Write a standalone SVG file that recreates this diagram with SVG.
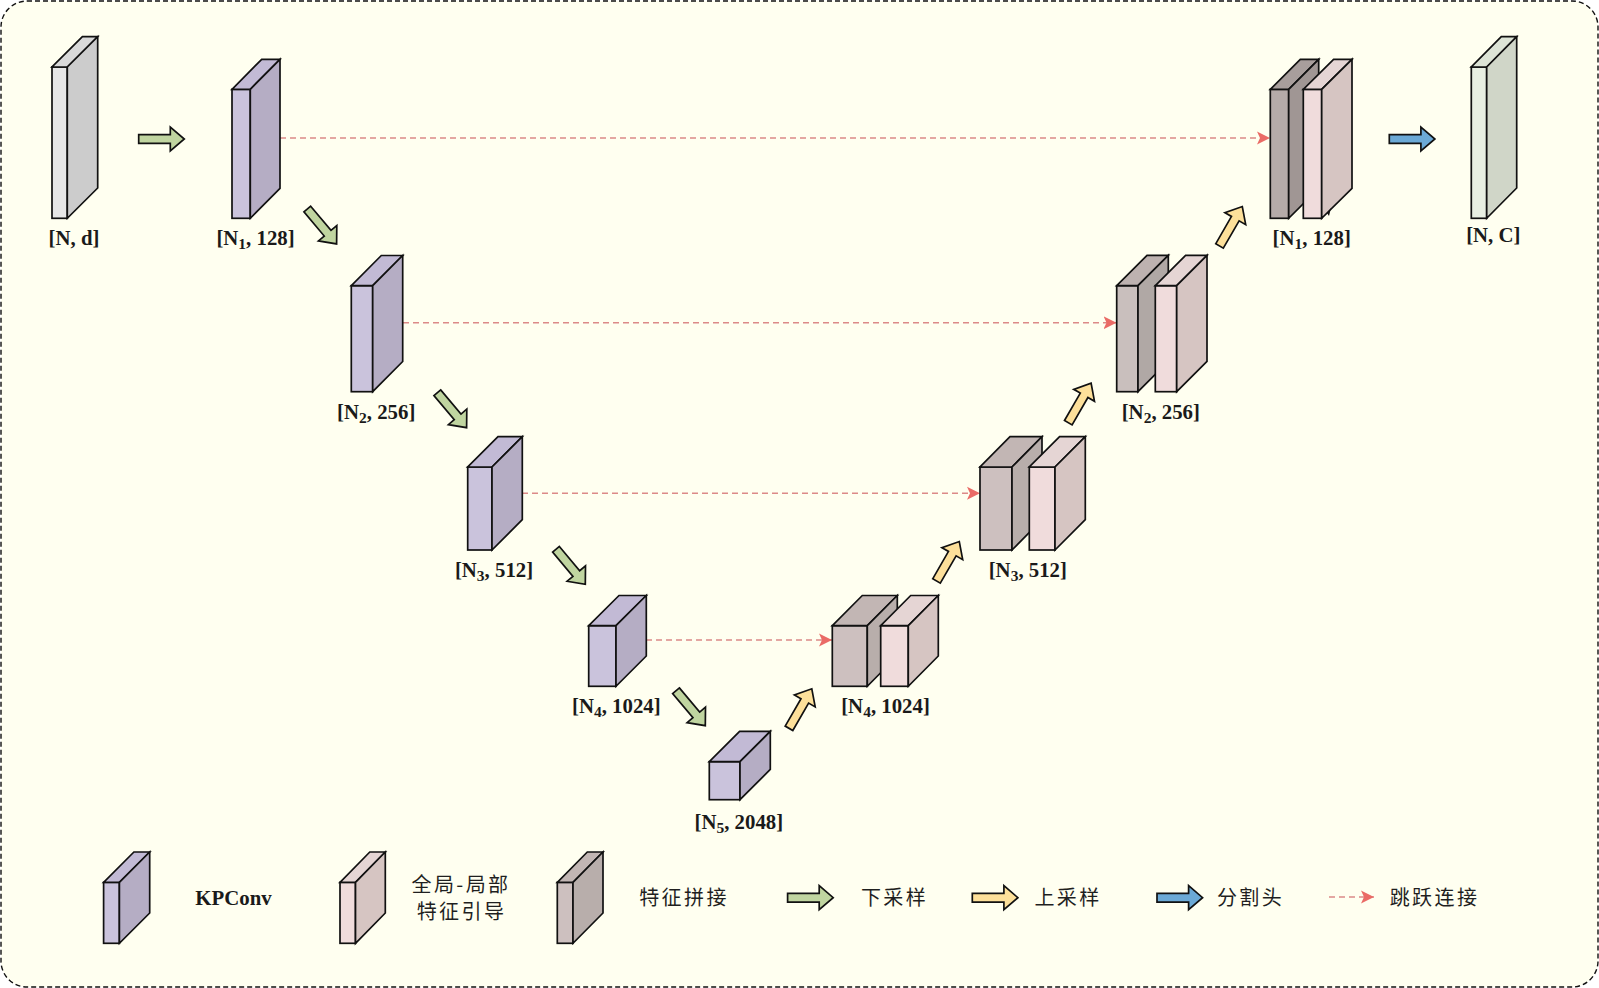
<svg xmlns="http://www.w3.org/2000/svg" width="1599" height="988" viewBox="0 0 1599 988">
<defs>
<style>
.e{stroke:#111;stroke-width:1.7;stroke-linejoin:miter}
.lb{font-family:"Liberation Serif","Noto Sans CJK SC",serif;font-weight:700;font-size:20.8px;fill:#1a1a1a;text-anchor:middle}
.cn{font-family:"Noto Sans CJK SC","Liberation Sans",sans-serif;font-size:20px;font-weight:400;fill:#1f1f1f;text-anchor:middle;letter-spacing:2.4px}
.sk{fill:none;stroke:#dc8a88;stroke-width:1.5;stroke-dasharray:6 4}
.g{fill:#c0d5a0}.y{fill:#fde09a}.b{fill:#6ba9d6}
.pf{fill:#cac3dc}.pt{fill:#c2bad5}.ps{fill:#b5adc4}
.kf{fill:#f0dcdc}.kt{fill:#e5d5d4}.ks{fill:#d6c5c2}
.cf{fill:#cdc0bf}.ct{fill:#c2b6b4}.cs{fill:#b8aeab}
</style>
<polygon id="ar" class="e" points="0,-4.4 31.6,-4.4 31.6,-12 45.6,0 31.6,12 31.6,4.4 0,4.4"/>
<marker id="hd" markerUnits="userSpaceOnUse" markerWidth="14" markerHeight="14" refX="13" refY="7" orient="auto"><path d="M0,0.5 L13,7 L0,13.5 L3,7 Z" fill="#ea6b66"/></marker>
</defs>
<rect id="frame" x="1" y="1" width="1597" height="986" rx="26" ry="26" fill="#fffff0" stroke="#111" stroke-width="1.4" stroke-dasharray="5 3"/>

<g id="connectors">
<path class="sk" marker-end="url(#hd)" d="M280,138H1270"/>
<path class="sk" marker-end="url(#hd)" d="M403,322.7H1116.5"/>
<path class="sk" marker-end="url(#hd)" d="M522,493.3H980"/>
<path class="sk" marker-end="url(#hd)" d="M646,640H832"/>
<use href="#ar" class="g" transform="translate(138.7,139)"/>
<use href="#ar" class="g" transform="translate(307.3,209) rotate(50)"/>
<use href="#ar" class="g" transform="translate(437.3,392.7) rotate(50)"/>
<use href="#ar" class="g" transform="translate(556,549.3) rotate(50)"/>
<use href="#ar" class="g" transform="translate(676,690.7) rotate(50)"/>
<use href="#ar" class="y" transform="translate(789,728.3) rotate(-60)"/>
<use href="#ar" class="y" transform="translate(936.5,581) rotate(-60)"/>
<use href="#ar" class="y" transform="translate(1068.3,422.7) rotate(-60)"/>
<use href="#ar" class="y" transform="translate(1219.5,246) rotate(-60)"/>
<use href="#ar" class="b" transform="translate(1389.3,139)"/>
</g>

<g id="n-input">
<rect class="e" x="52" y="67" width="15.3" height="151.3" fill="#e6e6e6"/>
<polygon class="e" points="52,67 67.3,67 97.7,36.7 82.4,36.7" fill="#d9d9d9"/>
<polygon class="e" points="67.3,67 97.7,36.7 97.7,188 67.3,218.3" fill="#cccccc"/>
<text class="lb" x="74" y="245">[N, d]</text>
</g>
<g id="n1">
<rect class="e pf" x="232" y="89.3" width="18.3" height="129"/>
<polygon class="e pt" points="232,89.3 250.3,89.3 280,59.3 261.7,59.3"/>
<polygon class="e ps" points="250.3,89.3 280,59.3 280,188.3 250.3,218.3"/>
<text class="lb" x="255.5" y="245">[N<tspan font-size="15.5" dy="4">1</tspan><tspan dy="-4">, 128]</tspan></text>
</g>
<g id="n2">
<rect class="e pf" x="351.3" y="285.7" width="21.4" height="106"/>
<polygon class="e pt" points="351.3,285.7 372.7,285.7 402.7,255.5 381.3,255.5"/>
<polygon class="e ps" points="372.7,285.7 402.7,255.5 402.7,361.5 372.7,391.7"/>
<text class="lb" x="376.2" y="418.5">[N<tspan font-size="15.5" dy="4">2</tspan><tspan dy="-4">, 256]</tspan></text>
</g>
<g id="n3">
<rect class="e pf" x="467.7" y="467" width="24.3" height="83"/>
<polygon class="e pt" points="467.7,467 492,467 522.3,436.7 498,436.7"/>
<polygon class="e ps" points="492,467 522.3,436.7 522.3,519.7 492,550"/>
<text class="lb" x="494" y="576.5">[N<tspan font-size="15.5" dy="4">3</tspan><tspan dy="-4">, 512]</tspan></text>
</g>
<g id="n4">
<rect class="e pf" x="588.7" y="625.7" width="27.3" height="60.6"/>
<polygon class="e pt" points="588.7,625.7 616,625.7 646.3,595.5 619,595.5"/>
<polygon class="e ps" points="616,625.7 646.3,595.5 646.3,656 616,686.3"/>
<text class="lb" x="616.3" y="712.5">[N<tspan font-size="15.5" dy="4">4</tspan><tspan dy="-4">, 1024]</tspan></text>
</g>
<g id="n5">
<rect class="e pf" x="709.3" y="761.7" width="30.7" height="38"/>
<polygon class="e pt" points="709.3,761.7 740,761.7 770.3,731.4 739.6,731.4"/>
<polygon class="e ps" points="740,761.7 770.3,731.4 770.3,769.4 740,799.7"/>
<text class="lb" x="738.8" y="828.5">[N<tspan font-size="15.5" dy="4">5</tspan><tspan dy="-4">, 2048]</tspan></text>
</g>
<g id="d4">
<rect class="e cf" x="832.3" y="625.7" width="35" height="60.6"/>
<polygon class="e ct" points="832.3,625.7 867.3,625.7 897.3,595.5 862.3,595.5"/>
<polygon class="e cs" points="867.3,625.7 897.3,595.5 897.3,656 867.3,686.3"/>
<rect class="e kf" x="880.7" y="625.7" width="27.6" height="60.6"/>
<polygon class="e kt" points="880.7,625.7 908.3,625.7 938.3,595.5 910.7,595.5"/>
<polygon class="e ks" points="908.3,625.7 938.3,595.5 938.3,656 908.3,686.3"/>
<text class="lb" x="885.5" y="712.5">[N<tspan font-size="15.5" dy="4">4</tspan><tspan dy="-4">, 1024]</tspan></text>
</g>
<g id="d3">
<rect class="e cf" x="980" y="467" width="32" height="83"/>
<polygon class="e ct" points="980,467 1012,467 1042,436.7 1010,436.7"/>
<polygon class="e cs" points="1012,467 1042,436.7 1042,519.7 1012,550"/>
<rect class="e kf" x="1029.3" y="467" width="25.7" height="83"/>
<polygon class="e kt" points="1029.3,467 1055,467 1085.3,436.7 1059.6,436.7"/>
<polygon class="e ks" points="1055,467 1085.3,436.7 1085.3,519.7 1055,550"/>
<text class="lb" x="1027.8" y="576.5">[N<tspan font-size="15.5" dy="4">3</tspan><tspan dy="-4">, 512]</tspan></text>
</g>
<g id="d2">
<rect class="e cf" x="1116.7" y="285.7" width="21.3" height="106" style="fill:#c9bfbd"/>
<polygon class="e" points="1116.7,285.7 1138,285.7 1168.3,255.4 1147,255.4" fill="#bdb2b0"/>
<polygon class="e" points="1138,285.7 1168.3,255.4 1168.3,361.4 1138,391.7" fill="#b0a8a5"/>
<rect class="e kf" x="1155.3" y="285.7" width="21.4" height="106"/>
<polygon class="e kt" points="1155.3,285.7 1176.7,285.7 1207,255.4 1185.6,255.4"/>
<polygon class="e ks" points="1176.7,285.7 1207,255.4 1207,361.4 1176.7,391.7"/>
<text class="lb" x="1160.8" y="418.5">[N<tspan font-size="15.5" dy="4">2</tspan><tspan dy="-4">, 256]</tspan></text>
</g>
<g id="d1">
<rect class="e" x="1270.3" y="89.3" width="18.4" height="129" fill="#b5aba9"/>
<polygon class="e" points="1270.3,89.3 1288.7,89.3 1318.7,59.3 1300.3,59.3" fill="#a89e9c"/>
<polygon class="e" points="1288.7,89.3 1318.7,59.3 1318.7,188.3 1288.7,218.3" fill="#a09694"/>
<rect class="e kf" x="1303.3" y="89.3" width="18.4" height="129"/>
<polygon class="e kt" points="1303.3,89.3 1321.7,89.3 1352,59.3 1333.6,59.3"/>
<polygon class="e ks" points="1321.7,89.3 1352,59.3 1352,188.3 1321.7,218.3"/>
<polygon points="1324,217 1331,208 1329,216 1327,213" fill="#111"/>
<text class="lb" x="1311.7" y="245">[N<tspan font-size="15.5" dy="4">1</tspan><tspan dy="-4">, 128]</tspan></text>
</g>
<g id="n-output">
<rect class="e" x="1471.3" y="67" width="15.4" height="151.3" fill="#e8efe2"/>
<polygon class="e" points="1471.3,67 1486.7,67 1516.7,36.7 1501.3,36.7" fill="#dde4d6"/>
<polygon class="e" points="1486.7,67 1516.7,36.7 1516.7,188 1486.7,218.3" fill="#d0d6c8"/>
<text class="lb" x="1493.3" y="242">[N, C]</text>
</g>

<g id="legend-kpconv">
<rect class="e pf" x="103.6" y="882.3" width="15.8" height="61"/>
<polygon class="e pt" points="103.6,882.3 119.4,882.3 149.7,852 133.9,852"/>
<polygon class="e ps" points="119.4,882.3 149.7,852 149.7,913 119.4,943.3"/>
<text class="lb" x="233.5" y="905">KPConv</text>
</g>
<g id="legend-guide">
<rect class="e kf" x="340" y="882.3" width="15.5" height="61"/>
<polygon class="e kt" points="340,882.3 355.5,882.3 385.3,852 369.8,852"/>
<polygon class="e ks" points="355.5,882.3 385.3,852 385.3,913 355.5,943.3"/>
<text class="cn" x="461" y="892">全局-局部</text>
<text class="cn" x="461.5" y="918.5">特征引导</text>
</g>
<g id="legend-concat">
<rect class="e cf" x="557.3" y="882.3" width="15.7" height="61"/>
<polygon class="e ct" points="557.3,882.3 573,882.3 603,852 587.3,852"/>
<polygon class="e cs" points="573,882.3 603,852 603,913 573,943.3"/>
<text class="cn" x="684" y="905">特征拼接</text>
</g>
<g id="legend-down">
<use href="#ar" class="g" transform="translate(787.6,897.7)"/>
<text class="cn" x="894.5" y="905">下采样</text>
</g>
<g id="legend-up">
<use href="#ar" class="y" transform="translate(972.3,897.7)"/>
<text class="cn" x="1068" y="905">上采样</text>
</g>
<g id="legend-head">
<use href="#ar" class="b" transform="translate(1157,897.7)"/>
<text class="cn" x="1250.5" y="905">分割头</text>
</g>
<g id="legend-skip">
<path class="sk" marker-end="url(#hd)" d="M1329,897H1374"/>
<text class="cn" x="1434.5" y="905">跳跃连接</text>
</g>
</svg>
